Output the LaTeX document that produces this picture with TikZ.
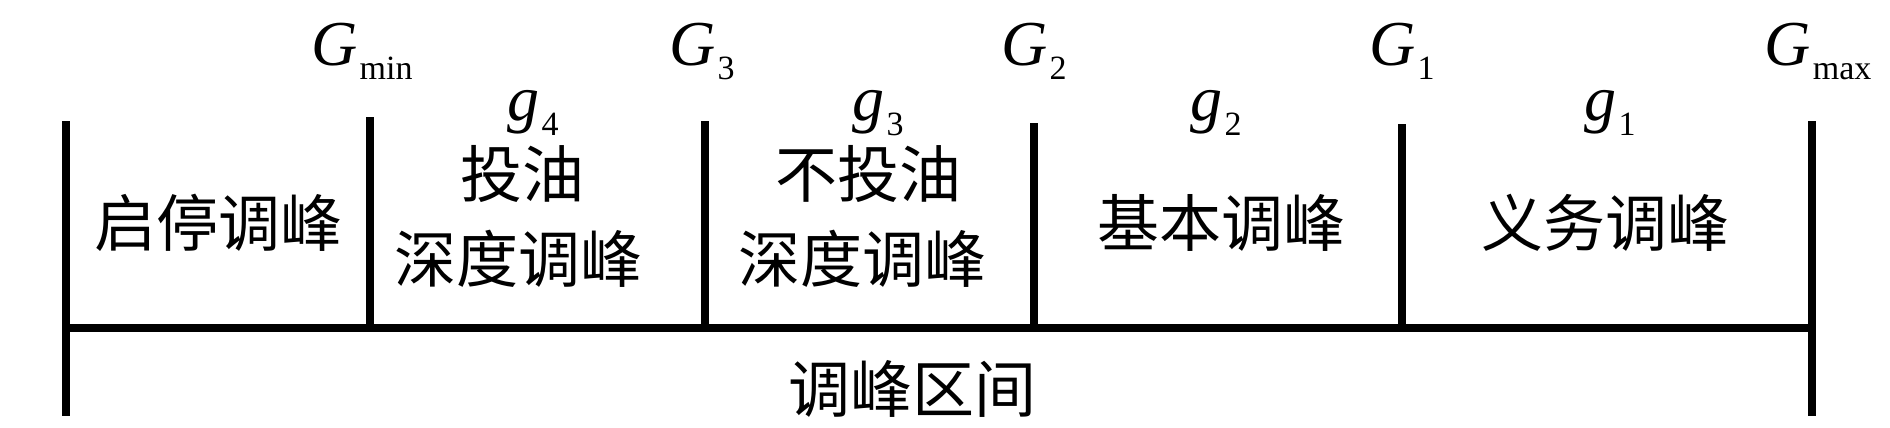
\documentclass[tikz,border=0pt]{standalone}
\usepackage{fontspec}
\setmainfont{Liberation Serif}
\newfontfamily\cjk{Noto Sans CJK SC}
\newcommand{\Glab}[2]{\textit{#1}\hspace{2pt}\raisebox{-14pt}{\fontsize{34}{34}\selectfont #2}}
\begin{document}
\begin{tikzpicture}[x=1pt,y=-1pt,
  bar/.style={line width=8pt,black},
  glab/.style={inner sep=0pt,anchor=base,font=\fontsize{64}{64}\selectfont},
  cjklab/.style={inner sep=0pt,align=center,font=\cjk\fontsize{62}{85}\selectfont}]
\useasboundingbox (0,0) rectangle (1890,428);
% coordinates
\coordinate (Lt) at (66,121);   \coordinate (Lb) at (66,416);  \coordinate (Lm) at (66,328);
\coordinate (Ant) at (370,117); \coordinate (Anb) at (370,328);
\coordinate (Bt) at (705,121);  \coordinate (Bb) at (705,328);
\coordinate (Ct) at (1034,123); \coordinate (Cb) at (1034,328);
\coordinate (Dt) at (1402,124); \coordinate (Db) at (1402,328);
\coordinate (Rt) at (1812,121); \coordinate (Rb) at (1812,416); \coordinate (Rm) at (1812,328);
% bars
\draw[bar] (Lt) -- (Lb);
\draw[bar] (Rt) -- (Rb);
\draw[bar] (Ant) -- (Anb);
\draw[bar] (Bt) -- (Bb);
\draw[bar] (Ct) -- (Cb);
\draw[bar] (Dt) -- (Db);
\draw[bar] (Lm) -- (Rm);
% G labels
\node[glab] (gmin) at (362,66) {\Glab{G}{min}};
\node[glab] (g3l) at (702,66) {\Glab{G}{3}};
\node[glab] (g2l) at (1034,66) {\Glab{G}{2}};
\node[glab] (g1l) at (1402,66) {\Glab{G}{1}};
\node[glab] (gmax) at (1818,66) {\Glab{G}{max}};
% g labels
\node[glab] (s4) at (533,121) {\Glab{g}{4}};
\node[glab] (s3) at (878,121) {\Glab{g}{3}};
\node[glab] (s2) at (1216,121) {\Glab{g}{2}};
\node[glab] (s1) at (1610,121) {\Glab{g}{1}};
% region texts
\node[cjklab] (r0) at (218,223) {启停调峰};
\node[cjklab] (r1a) at (522,174) {投油};
\node[cjklab] (r1b) at (518,259) {深度调峰};
\node[cjklab] (r2a) at (868,174) {不投油};
\node[cjklab] (r2b) at (862,259) {深度调峰};
\node[cjklab] (r3) at (1221,223) {基本调峰};
\node[cjklab] (r4) at (1605,223) {义务调峰};
\node[cjklab] (rx) at (912,389) {调峰区间};
\end{tikzpicture}
\end{document}
